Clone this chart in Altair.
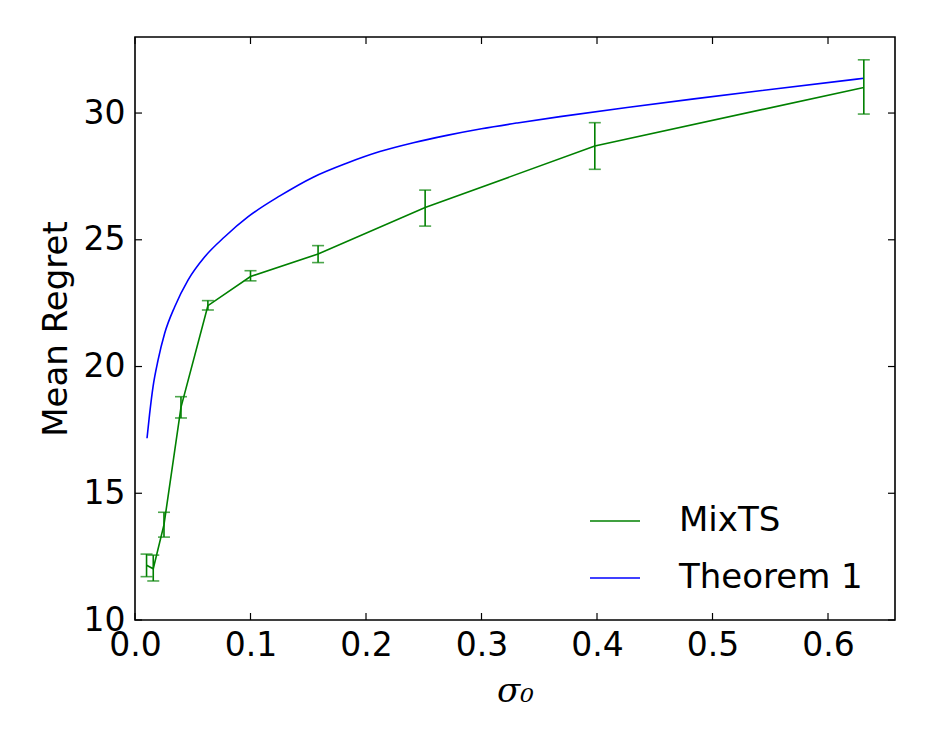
import altair as alt
import pandas as pd

# MixTS mean regret with error bars
mix_sigma = [0.01, 0.0158, 0.0251, 0.0398, 0.0631, 0.1, 0.1585, 0.2512, 0.3981, 0.631]
mix_mean = [12.16, 12.02, 13.76, 18.39, 22.40, 23.55, 24.44, 26.27, 28.70, 31.01]
mix_lo = [11.71, 11.54, 13.27, 17.97, 22.23, 23.38, 24.10, 25.54, 27.78, 29.96]
mix_hi = [12.60, 12.56, 14.25, 18.81, 22.60, 23.78, 24.77, 26.96, 29.62, 32.10]

# Theorem 1 bound curve
thm_sigma = [0.0104, 0.0127, 0.0156, 0.020, 0.0257, 0.0344, 0.0459, 0.0604, 0.0777,
             0.098, 0.1254, 0.1543, 0.1832, 0.212, 0.241, 0.270, 0.300, 0.331,
             0.368, 0.426, 0.484, 0.541, 0.631]
thm_regret = [17.17, 18.15, 19.2, 20.26, 21.31, 22.36, 23.41, 24.33, 25.12,
              25.91, 26.73, 27.47, 28.02, 28.48, 28.83, 29.12, 29.38, 29.61,
              29.86, 30.22, 30.56, 30.88, 31.37]

x_ticks = [0.0, 0.1, 0.2, 0.3, 0.4, 0.5, 0.6]
y_ticks = [10, 15, 20, 25, 30]
series_names = ["MixTS", "Theorem 1"]
series_colors = ["#008000", "#0000ff"]

W, H = 760, 583
FONT = "DejaVu Sans"
FS = 33

mix_df = pd.DataFrame({"sigma": mix_sigma, "regret": mix_mean, "lo": mix_lo,
                       "hi": mix_hi, "series": "MixTS"})
thm_df = pd.DataFrame({"sigma": thm_sigma, "regret": thm_regret, "series": "Theorem 1"})
xt_df = pd.DataFrame({"t": x_ticks})
yt_df = pd.DataFrame({"t": y_ticks})

xscale = alt.Scale(domain=[0, 0.658], nice=False, zero=False)
yscale = alt.Scale(domain=[10, 33], nice=False, zero=False)
cscale = alt.Scale(domain=series_names, range=series_colors)

xaxis = alt.Axis(values=x_ticks, format=".1f", grid=False, domain=False, ticks=False,
                 labelFontSize=FS, labelFont=FONT, labelColor="black", labelPadding=9,
                 title="σ₀", titleFont="DejaVu Serif", titleFontStyle="italic",
                 titleFontWeight="normal", titleFontSize=34, titleColor="black",
                 titlePadding=12, labelFlush=False, labelOverlap=False)
yaxis = alt.Axis(values=y_ticks, grid=False, domain=False, ticks=False,
                 labelFontSize=FS, labelFont=FONT, labelColor="black", labelPadding=10,
                 title="Mean Regret", titleFont=FONT, titleFontWeight="normal",
                 titleFontSize=34, titleColor="black", titlePadding=10, labelFlush=False,
                 labelOverlap=False)

legend = alt.Legend(title=None, orient="none", legendX=454, legendY=458,
                    symbolType="stroke", symbolSize=2500, symbolStrokeWidth=1.6,
                    labelFontSize=34, labelFont=FONT, labelColor="black",
                    labelOffset=38, rowPadding=14, labelLimit=400)

X = alt.X("sigma:Q", scale=xscale, axis=xaxis)

mix_line = alt.Chart(mix_df).mark_line(strokeWidth=1.6).encode(
    x=X,
    y=alt.Y("regret:Q", scale=yscale, axis=yaxis),
    color=alt.Color("series:N", scale=cscale, legend=legend),
    order=alt.Order("sigma:Q"),
)

thm_line = alt.Chart(thm_df).mark_line(strokeWidth=1.6, interpolate="monotone").encode(
    x=X,
    y=alt.Y("regret:Q", scale=yscale, axis=yaxis),
    color=alt.Color("series:N", scale=cscale, legend=legend),
    order=alt.Order("sigma:Q"),
)

errs = alt.Chart(mix_df).mark_errorbar(ticks={"size": 12, "thickness": 1.6},
                                       color="#008000", thickness=1.6).encode(
    x=X,
    y=alt.Y("lo:Q", scale=yscale, axis=yaxis),
    y2="hi:Q",
)

tick_len = 7
xt_bottom = alt.Chart(xt_df).mark_rule(color="black", strokeWidth=1.2).encode(
    x=alt.X("t:Q", scale=xscale, axis=xaxis), y=alt.value(H), y2=alt.value(H - tick_len))
xt_top = alt.Chart(xt_df).mark_rule(color="black", strokeWidth=1.2).encode(
    x=alt.X("t:Q", scale=xscale, axis=xaxis), y=alt.value(0), y2=alt.value(tick_len))
yt_left = alt.Chart(yt_df).mark_rule(color="black", strokeWidth=1.2).encode(
    y=alt.Y("t:Q", scale=yscale, axis=yaxis), x=alt.value(0), x2=alt.value(tick_len))
yt_right = alt.Chart(yt_df).mark_rule(color="black", strokeWidth=1.2).encode(
    y=alt.Y("t:Q", scale=yscale, axis=yaxis), x=alt.value(W), x2=alt.value(W - tick_len))

chart = alt.layer(mix_line, thm_line, errs, xt_bottom, xt_top, yt_left, yt_right).properties(
    width=W, height=H,
    background="white",
    autosize=alt.AutoSizeParams(type="none"),
    padding={"left": 127, "top": 29, "right": 31, "bottom": 100},
).configure_view(stroke="black", strokeWidth=1.6)

chart.save("out.html", embed_options={"renderer": "svg", "actions": False})
